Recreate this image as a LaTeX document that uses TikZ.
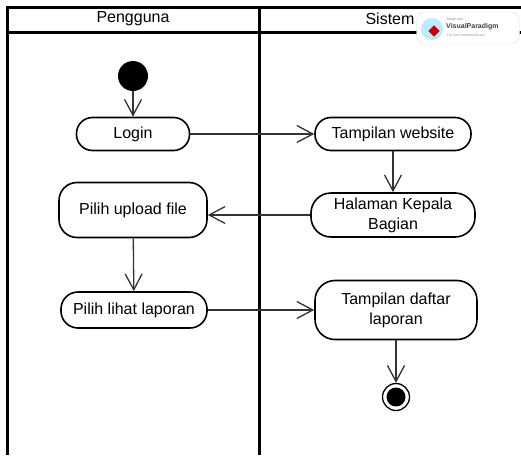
\documentclass[tikz,border=0pt]{standalone}
\usepackage{fontspec}
\setmainfont{Liberation Sans}
\usetikzlibrary{arrows.meta}

\begin{document}
\begin{tikzpicture}[x=1pt,y=-1pt,
    action/.style={shape=rectangle,draw=black,line width=1.6pt,rounded corners=#1,align=center,font=\fontsize{16}{20}\selectfont,inner sep=0pt},
    action/.default=16pt,
    flow/.style={draw=black!80,line width=1.3pt,-{Straight Barb[length=16pt,width=17pt,line width=1.3pt]}},
    lane/.style={line width=3pt},
    mark text/.style={anchor=west,inner sep=0pt,text=black!45,font=\fontsize{3.5}{4}\selectfont}]
    \useasboundingbox (0,0) rectangle (521,455);

    % swimlanes
    \draw[lane] (7,455) -- (7,7) -- (521,7);
    \draw[lane] (7,32) -- (521,32);
    \draw[lane] (259,7) -- (259,455);
    \node[font=\fontsize{16}{20}\selectfont] (pengguna) at (133,19) {Pengguna};
    \node[font=\fontsize{16}{20}\selectfont] (sistem) at (390,19) {Sistem};

    % nodes
    \node[shape=circle,fill=black,minimum size=30pt,inner sep=0pt] (start) at (133,76) {};
    \node[action,minimum width=113pt,minimum height=33pt] (login) at (133,134) {Login};
    \node[action,minimum width=156pt,minimum height=33pt] (web) at (393,134) {Tampilan website};
    \node[action=20pt,minimum width=164pt,minimum height=44pt] (kabag) at (393,215) {Halaman Kepala\\Bagian};
    \node[action=18pt,minimum width=148pt,minimum height=55pt] (upload) at (133,210) {Pilih upload file};
    \node[action=17pt,minimum width=146pt,minimum height=36pt] (lihat) at (134,310) {Pilih lihat laporan};
    \node[action=20pt,minimum width=162pt,minimum height=59pt] (daftar) at (396,310) {Tampilan daftar\\laporan};
    \node[shape=circle,draw=black,line width=1.3pt,minimum size=27pt,inner sep=0pt] (end) at (396,397) {};
    \node[shape=circle,fill=black,minimum size=19pt,inner sep=0pt] (endin) at (end) {};

    \path [flow] (start) edge (login);
    \path [flow] (login) edge (web);
    \path [flow] (web) edge (kabag);
    \draw [flow] (kabag.west) -- (kabag.west -| upload.east);
    \path [flow] (upload) edge (lihat);
    \path [flow] (lihat) edge (daftar);
    \path [flow] (daftar) edge (end);

    % watermark
    \node[draw=black!12,fill=white,rounded corners=9pt,minimum width=103pt,minimum height=32pt] (vp) at (468,28) {};
    \node[shape=circle,fill=cyan!25,minimum size=22pt,inner sep=0pt] (vpicon) at (432,29) {};
    \node[fill=red!75!black,rotate=45,minimum size=8pt,inner sep=0pt] (vpmark) at (434,31) {};
    \node[mark text] (vpmade) at (447,19) {Made with};
    \node[anchor=west,inner sep=0pt,text=black!75,font=\bfseries\fontsize{7}{8}\selectfont] (vpname) at (446,27) {VisualParadigm};
    \node[mark text] (vpuse) at (447,35) {For non-commercial use};
\end{tikzpicture}
\end{document}
